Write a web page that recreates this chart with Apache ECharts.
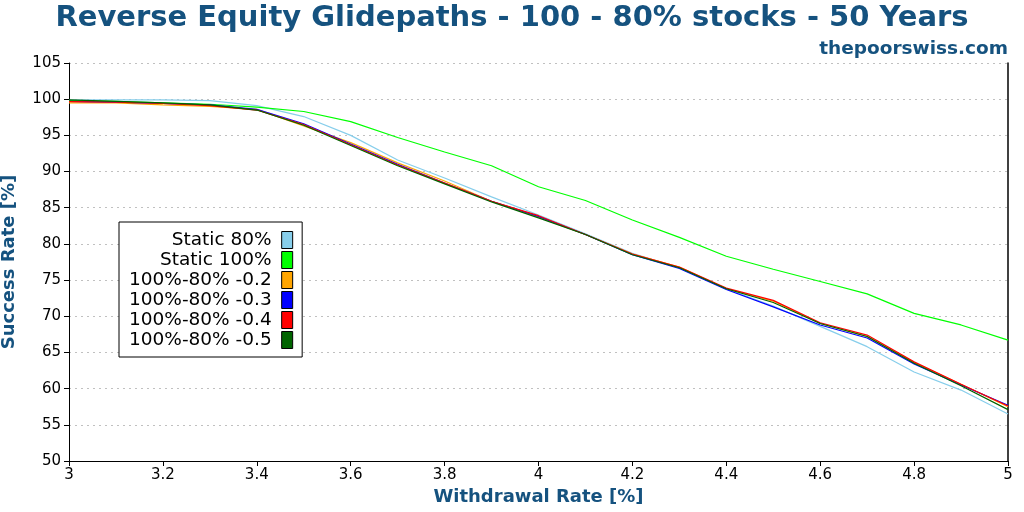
<!DOCTYPE html>
<html>
<head>
<meta charset="utf-8">
<script src="https://cdn.jsdelivr.net/npm/echarts@6/dist/echarts.min.js"></script>
<style>
  html, body { margin: 0; padding: 0; background: #fff; }
  #chart { width: 1024px; height: 512px; }
</style>
</head>
<body>
<div id="chart"></div>
<script>
  // withdrawal rates (x)
  const rates = [3.0, 3.1, 3.2, 3.3, 3.4, 3.5, 3.6, 3.7, 3.8, 3.9, 4.0, 4.1, 4.2, 4.3, 4.4, 4.5, 4.6, 4.7, 4.8, 4.9, 5.0]
  const static80 = [99.9, 99.9, 99.9, 99.8, 99.1, 97.6, 95.0, 91.6, 89.1, 86.5, 84.0, 81.4, 78.7, 76.7, 73.8, 71.4, 68.6, 65.8, 62.3, 59.8, 56.5]
  const static100 = [99.8, 99.7, 99.5, 99.3, 98.9, 98.3, 96.9, 94.7, 92.7, 90.8, 87.9, 86.0, 83.3, 80.9, 78.3, 76.5, 74.8, 73.1, 70.4, 68.8, 66.7]
  const gp02 = [99.5, 99.5, 99.2, 99.0, 98.6, 96.3, 94.0, 91.2, 88.7, 85.9, 83.7, 81.3, 78.6, 76.8, 73.8, 72.1, 69.0, 67.2, 63.6, 60.6, 57.5]
  const gp03 = [99.7, 99.6, 99.4, 99.2, 98.6, 96.6, 93.8, 91.0, 88.4, 85.9, 83.8, 81.3, 78.5, 76.6, 73.7, 71.3, 68.8, 67.0, 63.4, 60.5, 57.7]
  const gp04 = [99.65, 99.6, 99.4, 99.1, 98.5, 96.5, 93.7, 90.9, 88.4, 85.9, 83.9, 81.3, 78.6, 76.8, 73.9, 72.2, 69.1, 67.4, 63.7, 60.6, 57.6]
  const gp05 = [99.9, 99.7, 99.5, 99.2, 98.5, 96.4, 93.6, 90.8, 88.3, 85.8, 83.6, 81.3, 78.5, 76.7, 73.8, 71.9, 69.0, 67.2, 63.5, 60.4, 57.1]

  const names = ['Static 80%', 'Static 100%', '100%-80% -0.2', '100%-80% -0.3', '100%-80% -0.4', '100%-80% -0.5']
  const colors = ['#87ceeb', '#00ff00', '#ffa500', '#0000ff', '#ff0000', '#006400']
  const values = [static80, static100, gp02, gp03, gp04, gp05]

  const blue = '#15527f'
  const font = 'DejaVu Sans'

  const chart = echarts.init(document.getElementById('chart'))
  const option = {
    animation: false,
    textStyle: { fontFamily: font },
    title: [
      {
        text: 'Reverse Equity Glidepaths - 100 - 80% stocks - 50 Years',
        left: 'center',
        top: -1,
        textStyle: { color: blue, fontSize: 29, fontWeight: 'bold', fontFamily: font },
      },
      {
        text: 'thepoorswiss.com',
        right: 11,
        top: 35,
        textStyle: { color: blue, fontSize: 18.5, fontWeight: 'bold', fontFamily: font },
      },
    ],
    grid: { left: 69, right: 16, top: 63, bottom: 51, containLabel: false, outerBoundsMode: 'none' },
    legend: {
      data: names.map((n, i) => ({ name: n, itemStyle: { color: colors[i], borderColor: '#000', borderWidth: 1 } })),
      orient: 'vertical',
      left: 119,
      top: 222,
      align: 'right',
      icon: 'rect',
      itemWidth: 11,
      itemHeight: 17,
      itemGap: 0,
      padding: [8, 9, 7, 10],
      backgroundColor: '#fff',
      borderColor: '#000',
      borderWidth: 1,
      borderRadius: 0,
      textStyle: { fontSize: 18.5, lineHeight: 20, color: '#000', fontFamily: font, padding: [0, 5, 0, 0] },
    },
    xAxis: {
      type: 'value',
      min: 3,
      max: 5,
      interval: 0.2,
      name: 'Withdrawal Rate [%]',
      nameLocation: 'middle',
      nameGap: 26,
      nameTextStyle: { color: blue, fontSize: 18, fontWeight: 'bold', fontFamily: font },
      axisLine: { lineStyle: { color: '#000', width: 1 } },
      axisTick: { length: 5, lineStyle: { color: '#000' } },
      axisLabel: { color: '#000', fontSize: 15, margin: 7 },
      splitLine: { show: false },
    },
    yAxis: [
      {
        type: 'value',
        min: 50,
        max: 105,
        interval: 5,
        name: 'Success Rate [%]',
        nameLocation: 'middle',
        nameGap: 51,
        nameRotate: 90,
        nameTextStyle: { color: blue, fontSize: 18, fontWeight: 'bold', fontFamily: font },
        axisLine: { show: true, lineStyle: { color: '#000', width: 1 } },
        axisTick: { show: true, length: 5, lineStyle: { color: '#000' } },
        axisLabel: { color: '#000', fontSize: 15, margin: 8 },
        splitLine: { show: true, lineStyle: { color: '#c0c0c0', type: [2, 4], width: 1 } },
      },
      {
        type: 'value',
        min: 50,
        max: 105,
        interval: 5,
        position: 'right',
        axisLine: { show: true, lineStyle: { color: '#000', width: 1.5 } },
        axisTick: { show: false },
        axisLabel: { show: false },
        splitLine: { show: false },
      },
    ],
    series: names.map((n, i) => ({
      name: n,
      type: 'line',
      showSymbol: false,
      symbol: 'none',
      color: colors[i],
      lineStyle: { width: 1.2, color: colors[i] },
      data: rates.map((r, j) => [r, values[i][j]]),
    })),
  }
  chart.setOption(option)
</script>
</body>
</html>
